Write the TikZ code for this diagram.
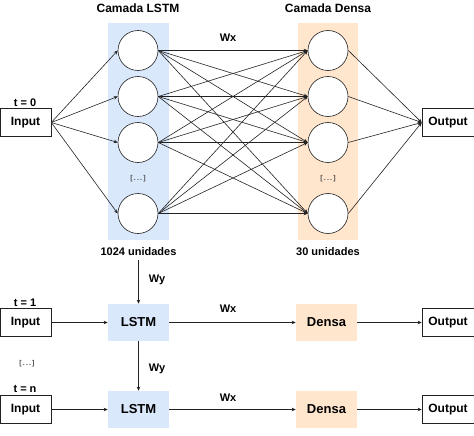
\documentclass[tikz,border=0pt]{standalone}
\usepackage{fontspec}
\setmainfont{Liberation Sans}
\usepackage{tikz}
\usetikzlibrary{arrows.meta,positioning}

\definecolor{lstmblue}{HTML}{DAE8FC}
\definecolor{densaorange}{HTML}{FFE6CC}
\definecolor{edgegray}{HTML}{222222}

\tikzset{
	neuron/.style={circle, draw=edgegray, fill=white, line width=.6pt, minimum size=40pt, inner sep=0pt},
	iobox/.style={rectangle, draw=edgegray, fill=white, line width=.6pt, minimum width=51pt, minimum height=28pt, inner sep=0pt, font=\fontsize{12}{12}\selectfont\bfseries},
	layerbox/.style={rectangle, minimum width=61pt, minimum height=37pt, inner sep=0pt, font=\fontsize{13}{13}\selectfont\bfseries},
	lbl/.style={inner sep=0pt, font=\fontsize{11}{11}\selectfont\bfseries},
	dots/.style={inner sep=0pt, text=black!70, font=\fontsize{7}{7}\selectfont\bfseries}
}

\begin{document}
\begin{tikzpicture}[x=1pt,y=-1pt,>={Stealth[length=4pt,width=3.5pt]},line width=.6pt,draw=edgegray]
			\useasboundingbox (0,0) rectangle (474,436);
			% layer columns
			\fill[lstmblue] (108,23) rectangle (169,240);
			\fill[densaorange] (298,23) rectangle (358,240);
			\node[lbl, font=\fontsize{12}{12}\selectfont\bfseries] (hlstm) at (138,8) {Camada LSTM};
			\node[lbl, font=\fontsize{12}{12}\selectfont\bfseries] (hdensa) at (328,8) {Camada Densa};
			% t = 0
			\node[iobox] (in0) at (25.5,122.5) {Input};
			\node[lbl] (t0) at (25,103) {t = 0};
			\node[neuron] (l1) at (138,50.5) {};
			\node[neuron] (l2) at (138,96.5) {};
			\node[neuron] (l3) at (138,142.5) {};
			\node[dots] (ldots) at (138,179) {[\,.\,.\,.\,]};
			\node[neuron] (l4) at (138,213.5) {};
			\node[neuron] (d1) at (328,50.5) {};
			\node[neuron] (d2) at (328,96.5) {};
			\node[neuron] (d3) at (328,142.5) {};
			\node[dots] (ddots) at (328,179) {[\,.\,.\,.\,]};
			\node[neuron] (d4) at (328,213.5) {};
			\node[iobox, minimum width=52pt] (out0) at (448,122.5) {Output};
			\node[lbl] (wx0) at (228,38) {Wx};
			\node[lbl] (u1) at (138.5,252) {1024 unidades};
			\node[lbl] (u2) at (328,252) {30 unidades};
			\path[->]
				(in0.east) edge (l1.west)
				(in0.east) edge (l2.west)
				(in0.east) edge (l3.west)
				(in0.east) edge (l4.west)
				(l1.east) edge (d1.west) (l1.east) edge (d2.west) (l1.east) edge (d3.west) (l1.east) edge (d4.west)
				(l2.east) edge (d1.west) (l2.east) edge (d2.west) (l2.east) edge (d3.west) (l2.east) edge (d4.west)
				(l3.east) edge (d1.west) (l3.east) edge (d2.west) (l3.east) edge (d3.west) (l3.east) edge (d4.west)
				(l4.east) edge (d1.west) (l4.east) edge (d2.west) (l4.east) edge (d3.west) (l4.east) edge (d4.west)
				(d1.east) edge (out0.west)
				(d2.east) edge (out0.west)
				(d3.east) edge (out0.west)
				(d4.east) edge (out0.west);
			% t = 1
			\node[iobox] (in1) at (25.5,322.5) {Input};
			\node[lbl] (t1) at (25,303) {t = 1};
			\node[layerbox, fill=lstmblue] (lstm1) at (138.5,322.5) {LSTM};
			\node[layerbox, fill=densaorange] (densa1) at (326.5,322.5) {Densa};
			\node[iobox, minimum width=52pt] (out1) at (448,322.5) {Output};
			\node[lbl] (wx1) at (228,309) {Wx};
			\node[lbl] (wy1) at (157,280) {Wy};
			\node[dots] (tdots) at (27,364) {[\,.\,.\,.\,]};
			% t = n
			\node[iobox] (inn) at (25.5,409.5) {Input};
			\node[lbl] (tn) at (25,389) {t = n};
			\node[layerbox, fill=lstmblue] (lstmn) at (138.5,409.5) {LSTM};
			\node[layerbox, fill=densaorange] (densan) at (326.5,409.5) {Densa};
			\node[iobox, minimum width=52pt] (outn) at (448,409.5) {Output};
			\node[lbl] (wxn) at (228,398) {Wx};
			\node[lbl] (wyn) at (157,369) {Wy};
			\path[->]
				(u1) edge[shorten <=4pt] (lstm1)
				(in1) edge (lstm1)
				(lstm1) edge (densa1)
				(densa1) edge (out1)
				(lstm1) edge (lstmn)
				(inn) edge (lstmn)
				(lstmn) edge (densan)
				(densan) edge (outn);
		\end{tikzpicture}
\end{document}
